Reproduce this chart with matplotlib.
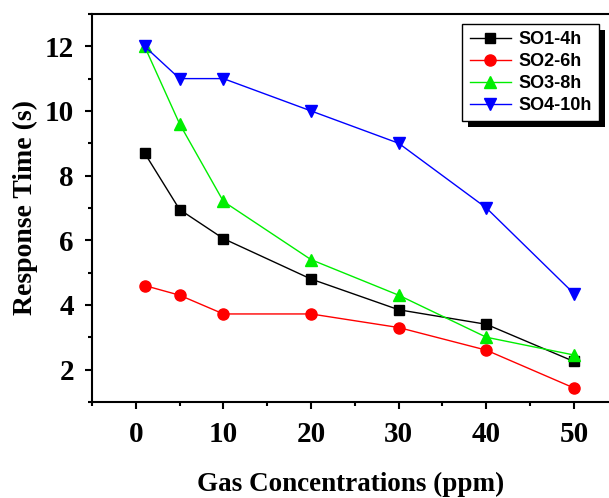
import matplotlib
matplotlib.use('Agg')
import matplotlib.pyplot as plt
from matplotlib.patches import Rectangle
from matplotlib.transforms import IdentityTransform
from matplotlib.ticker import MultipleLocator

# gas concentration (ppm)
conc = [1, 5, 10, 20, 30, 40, 50]

# response time (s) for each sample
so1_4h = [8.7, 6.95, 6.05, 4.8, 3.85, 3.4, 2.25]
so2_6h = [4.6, 4.3, 3.72, 3.72, 3.3, 2.6, 1.43]
so3_8h = [12.0, 9.6, 7.2, 5.4, 4.3, 3.0, 2.45]
so4_10h = [12.0, 11.0, 11.0, 10.0, 9.0, 7.0, 4.35]

fig = plt.figure(figsize=(6.09, 4.98), dpi=100)
ax = fig.add_axes([0.151, 0.193, 0.849, 0.779])

ax.plot(conc, so1_4h, color='black', marker='s', ms=7, lw=1, label='SO1-4h')
ax.plot(conc, so2_6h, color='red', marker='o', ms=8, lw=1, label='SO2-6h')
ax.plot(conc, so3_8h, color='#00ee00', marker='^', ms=9, lw=1, label='SO3-8h')
ax.plot(conc, so4_10h, color='blue', marker='v', ms=9, lw=1, label='SO4-10h')

ax.set_xlim(-5, 54)
ax.set_ylim(1, 13)
ax.xaxis.set_major_locator(MultipleLocator(10))
ax.xaxis.set_minor_locator(MultipleLocator(5))
ax.yaxis.set_major_locator(MultipleLocator(2))
ax.yaxis.set_minor_locator(MultipleLocator(1))

for s in ax.spines.values():
    s.set_linewidth(1.5)
ax.spines['right'].set_visible(False)
ax.tick_params(which='major', direction='out', length=5, width=1.5)
ax.tick_params(which='minor', direction='out', length=3, width=1.5)
ax.tick_params(axis='y', which='both', right=False, pad=8)
ax.tick_params(axis='x', pad=9)

serif = ['Liberation Serif', 'DejaVu Serif']
for lab in ax.get_xticklabels() + ax.get_yticklabels():
    lab.set_fontfamily(serif)
    lab.set_fontweight('bold')
    lab.set_fontsize(21)

ax.set_xlabel('Gas Concentrations (ppm)', fontfamily=serif, fontweight='bold',
              fontsize=19.5, labelpad=17)
ax.set_ylabel('Response Time (s)', fontfamily=serif, fontweight='bold',
              fontsize=20, labelpad=5)

leg = ax.legend(loc='upper right', bbox_to_anchor=(0.9807, 0.974),
                borderaxespad=0,
                prop={'family': 'Liberation Sans', 'weight': 'bold', 'size': 13},
                frameon=True, fancybox=False, edgecolor='black', framealpha=1,
                handlelength=2.3, handletextpad=0.4, borderpad=0.4,
                labelspacing=0.27)
leg.get_frame().set_linewidth(1)
leg.set_zorder(6)

# solid black drop shadow behind legend
fig.canvas.draw()
bb = leg.get_window_extent()
off = 6
shadow = Rectangle((bb.x0 + off, bb.y0 - off), bb.width, bb.height,
                   transform=IdentityTransform(), facecolor='black',
                   edgecolor='none', zorder=5, clip_on=False)
ax.add_patch(shadow)

fig.savefig('out.png', dpi=100)
